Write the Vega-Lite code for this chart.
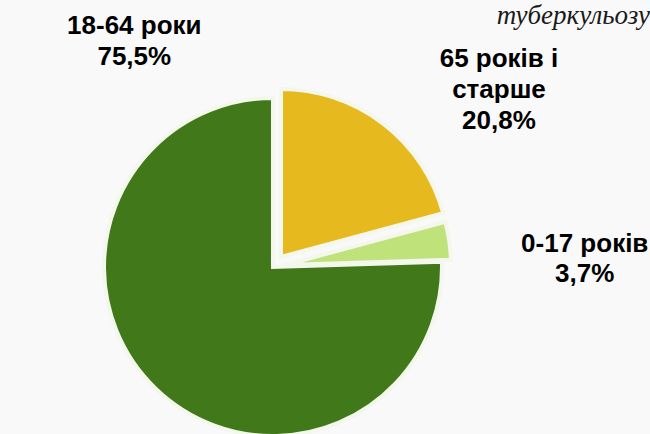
{
  "$schema": "https://vega.github.io/schema/vega-lite/v6.json",
  "width": 546,
  "height": 334,
  "autosize": {"type": "none"},
  "padding": {"left": 0, "top": 100, "right": 104, "bottom": 0},
  "background": "#f9f9f9",
  "view": {"stroke": null},
  "title": {
    "text": "туберкульозу",
    "anchor": "end",
    "frame": "group",
    "font": "Liberation Serif",
    "fontStyle": "italic",
    "fontWeight": "normal",
    "fontSize": 27,
    "color": "#1a1a1a",
    "baseline": "alphabetic",
    "offset": 0,
    "dx": 104,
    "dy": 40
  },
  "data": {
    "values": [
      {"age": "65 років і старше", "share": 20.8, "ord": 1, "label": "65 років і\nстарше\n20,8%"},
      {"age": "0-17 років", "share": 3.7, "ord": 2, "label": "0-17 років\n3,7%"},
      {"age": "18-64 роки", "share": 75.5, "ord": 3, "label": "18-64 роки\n75,5%"}
    ]
  },
  "encoding": {
    "theta": {"field": "share", "type": "quantitative", "stack": true},
    "order": {"field": "ord", "type": "quantitative"},
    "color": {
      "field": "age",
      "type": "nominal",
      "scale": {
        "domain": ["65 років і старше", "0-17 років", "18-64 роки"],
        "range": ["#e6b91f", "#c0e27a", "#41781a"]
      },
      "legend": null
    }
  },
  "layer": [
    {
      "mark": {"type": "arc", "radius": 169, "stroke": "#f4f7ec", "strokeWidth": 4},
      "encoding": {"opacity": {"condition": {"test": "datum.age == '18-64 роки'", "value": 1}, "value": 0}}
    },
    {
      "mark": {"type": "arc", "radius": 168, "stroke": "#f4f7ec", "strokeWidth": 4, "xOffset": 8, "yOffset": -10},
      "encoding": {"opacity": {"condition": {"test": "datum.age == '65 років і старше'", "value": 1}, "value": 0}}
    },
    {
      "mark": {"type": "arc", "radius": 166, "stroke": "#f4f7ec", "strokeWidth": 4, "xOffset": 12, "yOffset": -2},
      "encoding": {"opacity": {"condition": {"test": "datum.age == '0-17 років'", "value": 1}, "value": 0}}
    },
    {
      "mark": {"type": "text", "radius": 250, "dx": 74, "dy": -2, "font": "Liberation Sans", "fontWeight": "bold", "fontSize": 26, "lineHeight": 31, "lineBreak": "\n", "baseline": "alphabetic", "align": "center"},
      "encoding": {
        "text": {"field": "label", "type": "nominal"},
        "color": {"value": "#000000"},
        "opacity": {"condition": {"test": "datum.age == '65 років і старше'", "value": 1}, "value": 0}
      }
    },
    {
      "mark": {"type": "text", "radius": 300, "dx": 15, "dy": 29, "font": "Liberation Sans", "fontWeight": "bold", "fontSize": 26, "lineHeight": 30, "lineBreak": "\n", "baseline": "alphabetic", "align": "center"},
      "encoding": {
        "text": {"field": "label", "type": "nominal"},
        "color": {"value": "#000000"},
        "opacity": {"condition": {"test": "datum.age == '0-17 років'", "value": 1}, "value": 0}
      }
    },
    {
      "mark": {"type": "text", "radius": 1, "dx": -138, "dy": -234, "font": "Liberation Sans", "fontWeight": "bold", "fontSize": 26, "lineHeight": 31, "lineBreak": "\n", "baseline": "alphabetic", "align": "center"},
      "encoding": {
        "text": {"field": "label", "type": "nominal"},
        "color": {"value": "#000000"},
        "opacity": {"condition": {"test": "datum.age == '18-64 роки'", "value": 1}, "value": 0}
      }
    }
  ]
}
